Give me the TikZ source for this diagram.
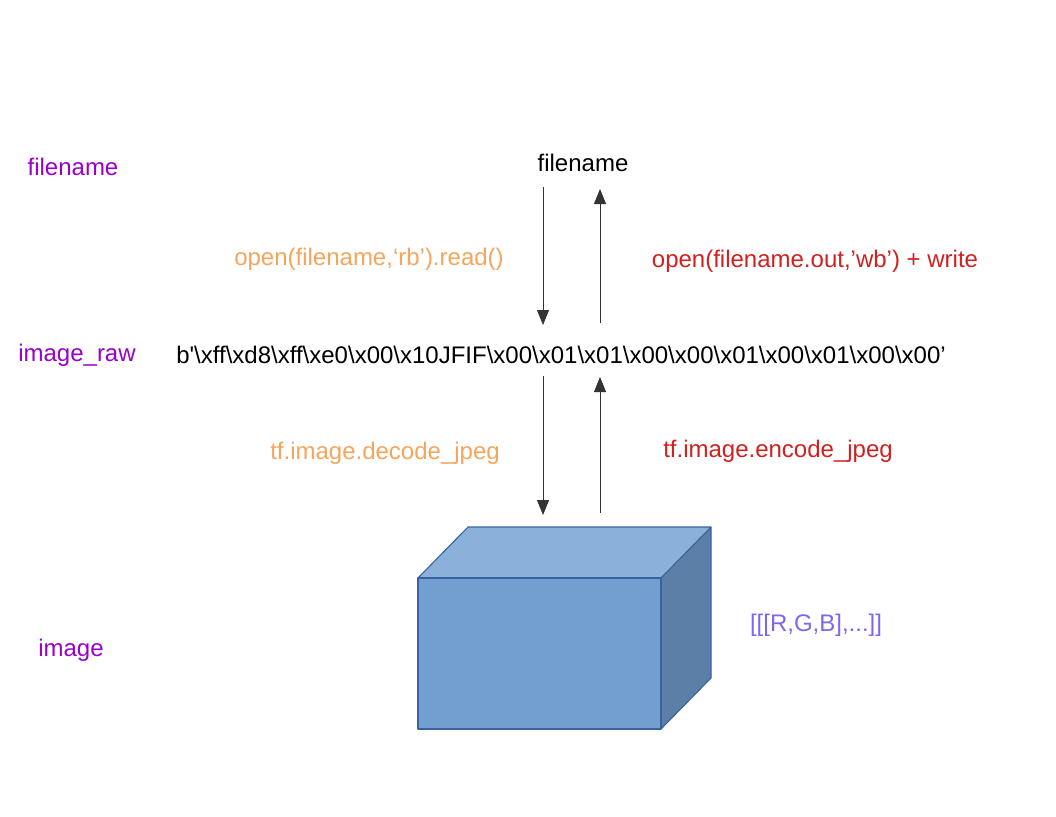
\documentclass[tikz,border=0pt]{standalone}
\usepackage{fontspec}
\setmainfont{Liberation Sans}[Ligatures=TeXOff]
\usetikzlibrary{arrows.meta}
\definecolor{lblpurple}{RGB}{153,0,204}
\definecolor{lblorange}{RGB}{246,165,92}
\definecolor{lblred}{RGB}{210,32,32}
\definecolor{lblindigo}{RGB}{123,104,238}
\definecolor{cubefront}{RGB}{114,159,207}
\definecolor{cubetop}{RGB}{139,176,218}
\definecolor{cubeside}{RGB}{91,127,167}
\definecolor{cubeedge}{RGB}{56,98,160}
\begin{document}
\begin{tikzpicture}[x=1pt,y=-1pt,
  txt/.style={inner sep=0pt,font=\fontsize{24}{28}\selectfont},
  arr/.style={draw=black!80,line width=0.9pt,-{Triangle[length=15pt,width=12pt]}},
  face/.style={draw=cubeedge,line width=1.1pt,line join=round}]
\useasboundingbox (0,0) rectangle (1056,816);
% left side labels
\node[txt,text=lblpurple] (lfile) at (73,167) {filename};
\node[txt,text=lblpurple] (lraw) at (77,355) {image\_raw};
\node[txt,text=lblpurple] (limg) at (71,650) {image};
% main texts
\node[txt] (fn) at (583,163) {filename};
\node[txt] (raw) at (561,355) {b'\textbackslash xff\textbackslash xd8\textbackslash xff\textbackslash xe0\textbackslash x00\textbackslash x10JFIF\textbackslash x00\textbackslash x01\textbackslash x01\textbackslash x00\textbackslash x00\textbackslash x01\textbackslash x00\textbackslash x01\textbackslash x00\textbackslash x00’};
% operation labels
\node[txt,text=lblorange] (rd) at (369,259) {open(filename,‘rb’).read()};
\node[txt,text=lblred] (wr) at (815,261) {open(filename.out,’wb’) + write};
\node[txt,text=lblorange] (dec) at (385,453) {tf.image.decode\_jpeg};
\node[txt,text=lblred] (enc) at (778,451) {tf.image.encode\_jpeg};
\node[txt,text=lblindigo] (rgb) at (816,625) {[[[R,G,B],...]]};
% arrow end points
\coordinate (fnL) at (543,187);
\coordinate (rawLt) at (543,325);
\coordinate (rawRt) at (600,323);
\coordinate (fnR) at (600,189);
\coordinate (rawLb) at (543,376);
\coordinate (cubeL) at (543,515);
\coordinate (cubeR) at (600,513);
\coordinate (rawRb) at (600,377);
\draw[arr] (fnL) -- (rawLt);
\draw[arr] (rawRt) -- (fnR);
\draw[arr] (rawLb) -- (cubeL);
\draw[arr] (cubeR) -- (rawRb);
% cube
\fill[cubefront] (418,578) rectangle (661,729);
\fill[cubetop] (418,578) -- (468,527) -- (711,527) -- (661,578) -- cycle;
\fill[cubeside] (661,578) -- (711,527) -- (711,678) -- (661,729) -- cycle;
\draw[face] (418,578) rectangle (661,729);
\draw[face] (418,578) -- (468,527) -- (711,527) -- (661,578);
\draw[face] (711,527) -- (711,678) -- (661,729);
\end{tikzpicture}
\end{document}
